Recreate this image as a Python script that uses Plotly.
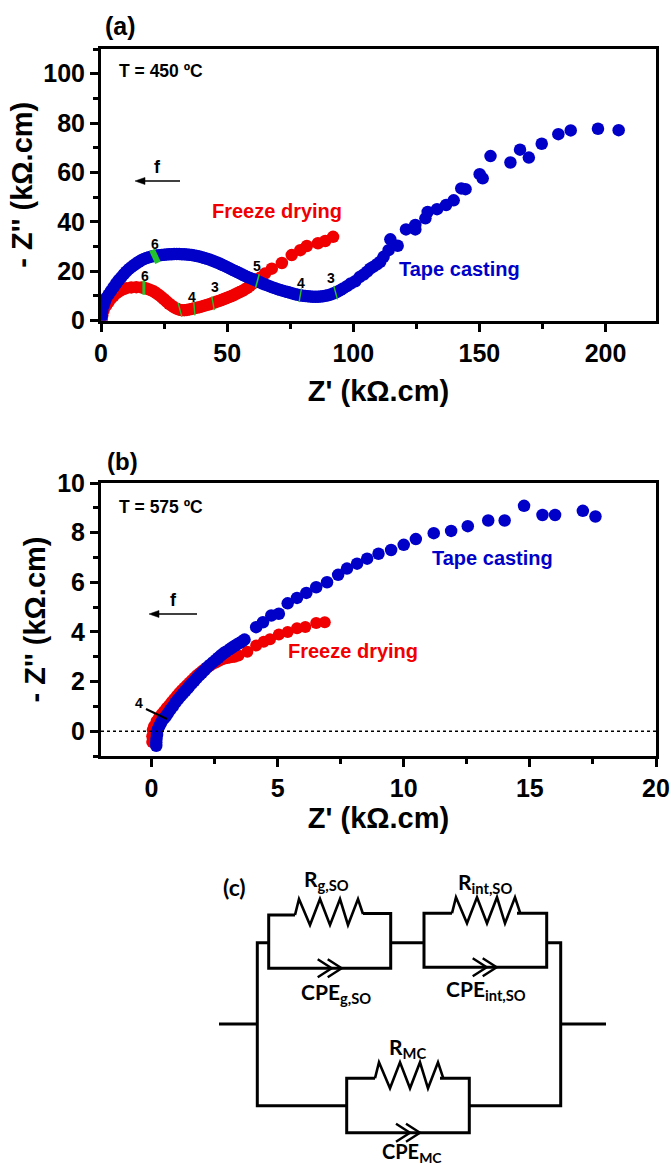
import plotly.graph_objects as go

W, H = 671, 1165
BLACK = "#000000"
RED = "#f00000"
BLUE = "#0000c8"
GREEN = "#22c32e"
SANS = "Liberation Sans, Arial, sans-serif"
CAL = "Lato, sans-serif"

# ---- Panel (a) data
a_red_x = [0.2,0.5,1,2,3,4,5,6,7,8,9,10,12,14,16,17,18,19,20,21,22,23,24,25,26,27,28,29,30,31,32,33,34,35,36,37,38,39,40,41,42,43,44,45,46,47,48,49,50,51,52,53,54,55,56,57,58,59,60,61,62,63,65,67.7,71.7,75.6,79,81.6,86,88.9,92]
a_red_y = [0,2,4,6,7.5,9,10,11,11.7,12.3,12.8,13.1,13.4,13.5,13.4,13.2,13,12.6,12.2,11.7,11,10.3,9.5,8.6,7.7,6.8,6,5.3,4.8,4.4,4.2,4.2,4.3,4.5,4.7,5,5.2,5.4,5.7,6,6.3,6.6,7,7.3,7.7,8,8.4,8.8,9.2,9.6,10,10.5,11,11.5,12,12.6,13.2,14,15,15.5,16.5,17.3,19,21,23.3,26.5,28.5,30.2,31.3,32.2,33.9]
a_blue_x = [0.2,0.3,0.5,1,1.5,2,3,4,5,6,7,8,9,10,11,12,13,14,15,16,17,18,19,20,21,22,23,24,25,26,27,28,29,30,31,32,33,34,35,36,37,38,39,40,41,42,43,44,45,46,47,48,49,50,51,52,53,54,55,56,57,58,59,60,61,62,63,64,65,66,67,68,69,70,71,72,73,74,75,76,77,78,79,80,81,82,83,84,85,86,87,88,89,90,91,92,93,94,95,96,97.5,99,100.8,102.5,104.1,105.5,106.7,108,109.4,110.7,112,114,114.7,117.6,120.9,124.6,124.6,128.6,129.5,133.2,136.8,139.8,142.8,144.5,150.1,151.3,154.4,162.3,166.1,169.6,174.7,181.3,186.2,197,205.2]
a_blue_y = [0,2,4,6,7.5,9,10.5,12,13.5,15,16.3,17.5,18.7,19.8,20.8,21.6,22.4,23.1,23.8,24.4,24.9,25.3,25.6,25.9,26.1,26.3,26.4,26.5,26.6,26.7,26.8,26.8,26.9,26.9,26.9,26.8,26.8,26.7,26.6,26.5,26.3,26.1,25.9,25.6,25.3,25,24.7,24.3,23.9,23.5,23.1,22.6,22.1,21.6,21.1,20.6,20.1,19.6,19.1,18.6,18.1,17.6,17.2,16.8,16.4,16,15.5,15,14.6,14.2,13.8,13.4,13.1,12.7,12.4,12.1,11.8,11.5,11.2,10.9,10.6,10.4,10.2,10,9.9,9.8,9.7,9.6,9.6,9.6,9.7,9.8,10,10.2,10.5,10.9,11.3,11.8,12.4,13,13.9,15,15.9,17.6,18.6,19.8,21,21.8,22.8,23.8,25.8,28.5,32.9,30.3,36.9,36.9,38.7,41.4,44,45.1,46.8,48.7,53.5,53.2,59.3,57.6,66.6,64,69.2,66,71.6,75.5,77,77.7,77.1]
a_green_red_x = [17, 31.3, 37, 44.4]
a_green_red_y = [13.3, 4.3, 4.9, 7]
a_green_blue_x = [21.4, 62, 79, 93]
a_green_blue_y = [26, 16, 10.2, 11.3]
a_green_red_angle = [0, -15, -5, -10]
a_green_blue_angle = [-25, 15, 10, -15]

# ---- Panel (b) data
b_red_x = [0.03,0.03,0.05,0.1,0.2,0.3,0.4,0.5,0.6,0.7,0.8,0.9,1,1.1,1.2,1.3,1.4,1.5,1.6,1.7,1.8,1.9,2,2.1,2.2,2.3,2.4,2.5,2.6,2.7,2.8,2.9,3,3.1,3.2,3.3,3.45,3.8,4.15,4.45,4.7,5.05,5.4,5.77,6.1,6.53,6.87]
b_red_y = [-0.44,-0.2,0.05,0.2,0.4,0.55,0.68,0.8,0.93,1.05,1.18,1.3,1.42,1.54,1.65,1.75,1.85,1.95,2.05,2.15,2.25,2.33,2.42,2.5,2.57,2.63,2.7,2.75,2.8,2.85,2.9,2.93,2.95,2.97,2.99,3.0,3.05,3.2,3.45,3.6,3.7,3.9,4.0,4.15,4.2,4.36,4.39]
b_blue_x = [0.19,0.19,0.2,0.22,0.25,0.3,0.36,0.42,0.5,0.58,0.66,0.75,0.85,0.95,1.05,1.15,1.25,1.35,1.45,1.51,1.6,1.7,1.8,1.9,2,2.1,2.2,2.3,2.43,2.55,2.65,2.75,2.85,2.95,3.1,3.2,3.3,3.4,3.5,3.6,3.69,4.15,4.42,4.75,5.05,5.4,5.77,6.14,6.53,6.96,7.4,7.75,8.15,8.55,9,9.5,10,10.48,11.19,11.88,12.54,13.35,14,14.77,15.5,16,17.1,17.6]
b_blue_y = [-0.59,-0.45,-0.3,-0.15,0.07,0.18,0.3,0.42,0.52,0.61,0.73,0.87,1,1.15,1.28,1.4,1.52,1.63,1.74,1.82,1.92,2.03,2.14,2.25,2.35,2.45,2.56,2.66,2.77,2.87,2.96,3.05,3.13,3.2,3.3,3.37,3.44,3.5,3.56,3.62,3.69,4.19,4.39,4.66,4.73,5.15,5.37,5.57,5.8,6,6.3,6.55,6.75,6.95,7.15,7.3,7.51,7.74,7.98,8.07,8.26,8.49,8.49,9.08,8.71,8.71,8.88,8.65]

# ---- Axis ticks
a_x_ticks = [0, 50, 100, 150, 200]
a_y_ticks = [0, 20, 40, 60, 80, 100]
b_x_ticks = [0, 5, 10, 15, 20]
b_y_ticks = [0, 2, 4, 6, 8, 10]

# ---- Circuit diagram (c): wire polylines in page pixels
wires = [
    [(219,1024),(257.3,1024)],
    [(561,1024),(606,1024)],
    [(268.7,942.7),(257.3,942.7),(257.3,1105.7),(346.7,1105.7)],
    [(546.7,942.7),(560.7,942.7),(560.7,1105.7),(469.3,1105.7)],
    [(390.7,942.7),(424,942.7)],
    [(295,915),(268.7,915),(268.7,968.3),(390.7,968.3),(390.7,913.5),(363,913.5)],
    [(452,913.3),(424,913.3),(424,967.3),(546.7,967.3),(546.7,913.3),(517,913.3)],
    [(375,1078.3),(346.7,1078.3),(346.7,1132.7),(469.3,1132.7),(469.3,1078.3),(440,1078.3)],
]
resistor_starts = [(295,915),(452,913.3),(375,1078.3)]
resistor_dx = [0,4,15,25,35,45,53,63,68]
resistor_dy = [0,-16,10,-16,10,-16,10,-16,-1]
cpe_tips = [(331.7,968.3),(341.7,968.3),(486.7,967.3),(496.7,967.3),(410,1132.7),(420,1132.7)]


def px(x):
    return x / W


def py(y):
    return 1 - y / H


fig = go.Figure()


def band(x, y, color, size, name, xa, ya):
    fig.add_trace(go.Scatter(x=x, y=y, mode="markers", name=name, xaxis=xa, yaxis=ya,
                             marker=dict(color=color, size=size, line=dict(width=0)), showlegend=False))


band(a_red_x, a_red_y, RED, 12.5, "Freeze drying", "x", "y")
band(a_blue_x, a_blue_y, BLUE, 12.5, "Tape casting", "x", "y")
for gx, gy, ga, wd in [(a_green_red_x, a_green_red_y, a_green_red_angle, [3, 1.4, 1.4, 1.4]),
                       (a_green_blue_x, a_green_blue_y, a_green_blue_angle, [6, 1.6, 1.4, 1.4])]:
    fig.add_trace(go.Scatter(x=gx, y=gy, mode="markers", xaxis="x", yaxis="y", showlegend=False,
                             marker=dict(symbol="line-ns", size=10, angle=ga, line=dict(color=GREEN, width=wd))))
band(b_red_x, b_red_y, RED, 12, "Freeze drying", "x2", "y2")
band(b_blue_x, b_blue_y, BLUE, 12.5, "Tape casting", "x2", "y2")

axis_common = dict(showline=True, linecolor=BLACK, linewidth=3, mirror=True, showgrid=False, zeroline=False,
                   ticks="outside", ticklen=8, tickwidth=3, tickcolor=BLACK, automargin=False,
                   tickfont=dict(family=SANS, size=25, color=BLACK, weight="bold"))
title_font = dict(family=SANS, size=29, color=BLACK, weight="bold")


def minor(step, start):
    return dict(ticks="outside", ticklen=5, tickwidth=3, tickcolor=BLACK, dtick=step, tick0=start, showgrid=False)


fig.update_layout(
    width=W, height=H, margin=dict(l=0, r=0, t=0, b=0, autoexpand=False), autosize=False,
    paper_bgcolor="white", plot_bgcolor="white", showlegend=False,
    xaxis=dict(domain=[px(101), px(656)], range=[0, 220], tickmode="array", tickvals=a_x_ticks,
               minor=minor(25, 0), anchor="y", title=dict(text="Z' (kΩ.cm)", font=title_font, standoff=16), **axis_common),
    yaxis=dict(domain=[py(320.5), py(49)], range=[0, 110], tickmode="array", tickvals=a_y_ticks,
               minor=minor(10, 0), anchor="x", title=dict(text="- Z'' (kΩ.cm)", font=title_font, standoff=3), **axis_common),
    xaxis2=dict(domain=[px(101), px(656)], range=[-2, 20], tickmode="array", tickvals=b_x_ticks,
                minor=minor(2.5, 0), anchor="y2", title=dict(text="Z' (kΩ.cm)", font=title_font, standoff=1), **axis_common),
    yaxis2=dict(domain=[py(756), py(483)], range=[-1, 10], tickmode="array", tickvals=b_y_ticks,
                minor=minor(1, 0), anchor="x2", title=dict(text="- Z'' (kΩ.cm)", font=title_font, standoff=4), **axis_common),
)

shapes = [dict(type="line", xref="x2 domain", yref="y2", x0=0, x1=1, y0=0, y1=0,
               line=dict(color=BLACK, width=1.6, dash="dot"))]


def path_of(points, close=False):
    return "M " + " L ".join(f"{px(a):.5f},{py(b):.5f}" for a, b in points) + (" Z" if close else "")


def wire(points, width=3):
    shapes.append(dict(type="path", xref="paper", yref="paper", path=path_of(points),
                       line=dict(color=BLACK, width=width)))


for w in wires:
    wire(w)
for sx, sy in resistor_starts:
    wire([(sx + dx, sy + dy) for dx, dy in zip(resistor_dx, resistor_dy)], 2.6)
for tx, ty in cpe_tips:
    wire([(tx - 14, ty - 9), (tx, ty), (tx - 14, ty + 9)], 2.4)
# callout line for the "4" label in panel (b)
wire([(146, 709), (167, 719)], 2)
# frequency arrows
for x0, x1, y in [(135, 180, 181), (149, 197, 614)]:
    wire([(x0 + 6, y), (x1, y)], 1.7)
    shapes.append(dict(type="path", xref="paper", yref="paper", path=path_of([(x0, y), (x0 + 10, y - 3.5), (x0 + 10, y + 3.5)], True),
                       fillcolor=BLACK, line=dict(color=BLACK, width=0.5)))
fig.update_layout(shapes=shapes)


def note(x, y, text, size, color=BLACK, family=SANS, bold=True):
    fig.add_annotation(xref="paper", yref="paper", x=px(x), y=py(y), text=text, showarrow=False,
                       xanchor="center", yanchor="middle",
                       font=dict(family=family, size=size, color=color, weight="bold" if bold else "normal"))


note(120, 26, "(a)", 25)
note(122, 461, "(b)", 24)
note(161, 71, "T = 450 ºC", 17.5)
note(161, 507, "T = 575 ºC", 17.5)
note(277, 211, "Freeze drying", 20, RED)
note(459, 269, "Tape casting", 20, BLUE)
note(353, 651, "Freeze drying", 20, RED)
note(492, 558, "Tape casting", 20, BLUE)
note(157, 167, "f", 18)
note(173, 600, "f", 18)
for x, y, t in [(155, 244, "6"), (145, 276, "6"), (192, 297, "4"), (215, 287, "3"), (257, 266, "5"),
                (301, 283, "4"), (331, 278, "3"), (139, 703, "4")]:
    note(x, y, t, 14)

note(234, 887, "(c)", 23, family=CAL)
note(326, 880, "R<sub>g,SO</sub>", 21, family=CAL)
note(485, 883, "R<sub>int,SO</sub>", 21, family=CAL)
note(336, 993, "CPE<sub>g,SO</sub>", 21, family=CAL)
note(486, 990, "CPE<sub>int,SO</sub>", 21, family=CAL)
note(407, 1048, "R<sub>MC</sub>", 21, family=CAL)
note(412, 1152, "CPE<sub>MC</sub>", 20, family=CAL)

fig.write_html("out.html", config=dict(displayModeBar=False), post_script="document.body.style.margin='0';")
